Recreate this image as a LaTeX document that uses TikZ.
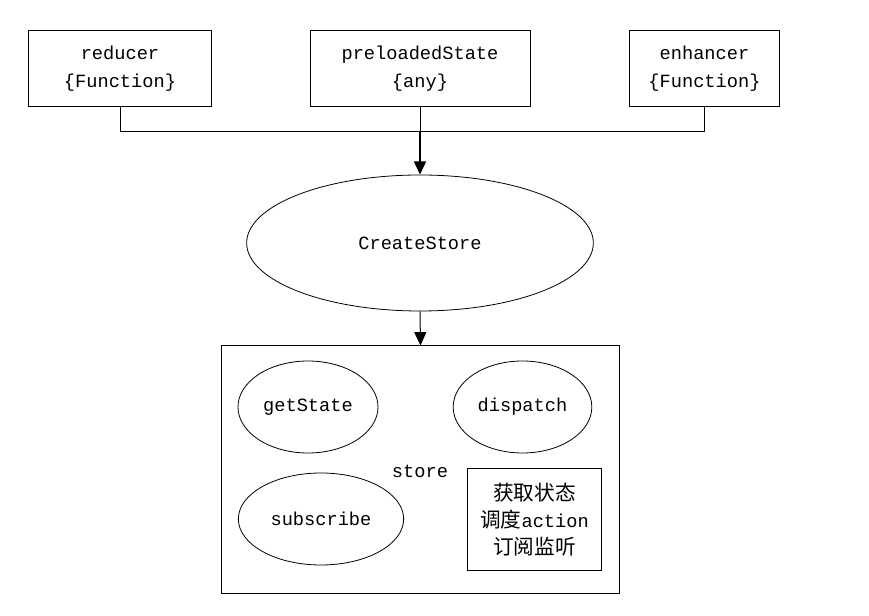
\documentclass[tikz,border=0pt]{standalone}
\usepackage{fontspec}
\setmainfont{Liberation Mono}
\newfontfamily\cjk{Noto Sans CJK SC}
\usetikzlibrary{shapes.geometric,arrows.meta}
\begin{document}
\begin{tikzpicture}[x=0.75pt,y=-0.75pt,
  every node/.style={font=\fontsize{14pt}{21pt}\selectfont},
  box/.style={draw,line width=0.75pt,rectangle,inner sep=0pt,align=center},
  ell/.style={draw,line width=0.6pt,ellipse,inner sep=0pt},
  conn/.style={line width=0.75pt},
  arr/.style={line width=0.75pt,-{Triangle[length=10pt,width=9pt]}},
  tharr/.style={line width=1.6pt,-{Triangle[length=10pt,width=9pt]}}]
\useasboundingbox (0,0) rectangle (869,616);
\node[box,minimum width=137pt,minimum height=57pt] (red) at (120,69) {reducer\\\{Function\}};
\node[box,minimum width=165pt,minimum height=57pt] (pre) at (420,69) {preloadedState\\\{any\}};
\node[box,minimum width=112pt,minimum height=57pt] (enh) at (704.5,69) {enhancer\\\{Function\}};
\coordinate (j) at (420,132);
\draw[conn] (red.south) |- (j);
\draw[conn] (enh.south) |- (j);
\draw[conn] (pre.south) -- (j);
\node[ell,minimum width=260pt,minimum height=102pt] (cs) at (420,243) {CreateStore};
\draw[tharr] (j) -- (cs.north);
\node[box,minimum width=298pt,minimum height=186pt] (store) at (420.5,470) {};
\draw[arr] (cs.south) -- (store.north);
\node[ell,minimum width=105pt,minimum height=69pt] (gs) at (308,407) {getState};
\node[ell,minimum width=104pt,minimum height=69pt] (dp) at (522.5,407) {dispatch};
\node[ell,minimum width=124pt,minimum height=69pt] (sub) at (321,519) {subscribe};
\node (st) at (420,471) {store};
\node[box,minimum width=101pt,minimum height=76pt,font=\fontsize{14pt}{20.5pt}\selectfont] (cn) at (534.5,519.5)
  {{\cjk\fontsize{15.5pt}{20.5pt}\selectfont 获取状态}\\{\cjk\fontsize{15.5pt}{20.5pt}\selectfont 调度}action\\{\cjk\fontsize{15.5pt}{20.5pt}\selectfont 订阅监听}};
\end{tikzpicture}
\end{document}
